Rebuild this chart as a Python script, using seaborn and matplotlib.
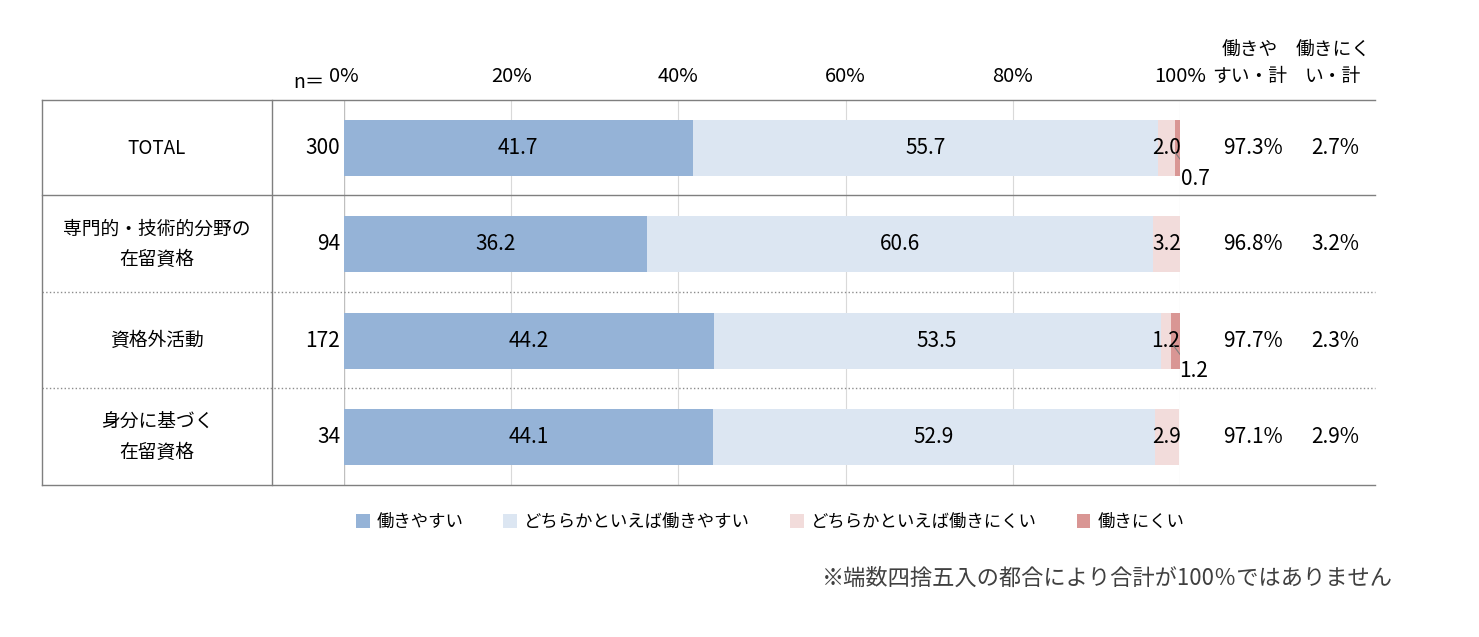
"""Stacked horizontal bar chart: ease of working, by residence status."""

import matplotlib
import numpy as np
import pandas as pd
import seaborn as sns
from matplotlib.lines import Line2D
from matplotlib.patches import Patch
from matplotlib import transforms

matplotlib.use("Agg")
import matplotlib.pyplot as plt

plt.rcParams["font.family"] = "Noto Sans CJK JP"

categories = ["TOTAL", "専門的・技術的分野の\n在留資格", "資格外活動", "身分に基づく\n在留資格"]
n_values = [300, 94, 172, 34]
series_names = ["働きやすい", "どちらかといえば働きやすい", "どちらかといえば働きにくい", "働きにくい"]
easy = [41.7, 36.2, 44.2, 44.1]
rather_easy = [55.7, 60.6, 53.5, 52.9]
rather_hard = [2.0, 3.2, 1.2, 2.9]
hard = [0.7, 0.0, 1.2, 0.0]
easy_total = ["97.3%", "96.8%", "97.7%", "97.1%"]
hard_total = ["2.7%", "3.2%", "2.3%", "2.9%"]
colors = ["#95b3d7", "#dce6f2", "#f2dcdb", "#d99694"]

series = [easy, rather_easy, rather_hard, hard]
cum = np.cumsum(np.array(series), axis=0)
df = pd.DataFrame({"cat": categories})

fig = plt.figure(figsize=(14.79, 6.37), dpi=100)
ax = fig.add_axes([344 / 1479, 1 - 485 / 637, 836 / 1479, 385 / 637])

# draw cumulative bars largest first so they stack
for i in range(3, -1, -1):
    sns.barplot(x=cum[i], y=df["cat"], color=colors[i], orient="h", width=0.58,
                saturation=1, ax=ax, zorder=2)

ax.set_xlim(0, 100)
ax.set_ylim(3.5, -0.5)
ax.set_xticks([0, 20, 40, 60, 80, 100])
ax.set_xticklabels(["0%", "20%", "40%", "60%", "80%", "100%"], fontsize=14.5)
ax.xaxis.tick_top()
ax.tick_params(axis="x", length=0, pad=9)
ax.set_yticks([])
ax.set_xlabel("")
ax.set_ylabel("")
for s in ax.spines.values():
    s.set_visible(False)
ax.axvline(0, color="#bfbfbf", lw=1, zorder=1)
for x in [20, 40, 60, 80, 100]:
    ax.axvline(x, color="#d9d9d9", lw=0.8, zorder=1)

# segment labels
for r in range(4):
    left = 0
    for i in range(3):
        v = series[i][r]
        ax.text(left + v / 2, r, f"{v:.1f}", ha="center", va="center", fontsize=15, zorder=3)
        left += v
    if hard[r] > 0:
        xm = left + hard[r] / 2
        ax.plot([xm - 0.3, xm + 1.6], [r + 0.05, r + 0.27], color="#7f7f7f", lw=0.8, zorder=3)
        ax.text(xm + 0.4, r + 0.32, f"{hard[r]:.1f}", ha="left", va="center", fontsize=15, zorder=3)

# table text outside the axes
tr = transforms.blended_transform_factory(fig.transFigure, ax.transData)
for r in range(4):
    ax.text(157 / 1479, r, categories[r], transform=tr, ha="center", va="center",
            fontsize=13.5, linespacing=1.6)
    ax.text(340 / 1479, r, str(n_values[r]), transform=tr, ha="right", va="center", fontsize=15)
    ax.text(1253 / 1479, r, easy_total[r], transform=tr, ha="center", va="center", fontsize=15)
    ax.text(1335 / 1479, r, hard_total[r], transform=tr, ha="center", va="center", fontsize=15)

fig.text(293 / 1479, 1 - 82 / 637, "n＝", ha="left", va="center", fontsize=14)
fig.text(1250 / 1479, 1 - 63 / 637, "働きや\nすい・計", ha="center", va="center", fontsize=13.5,
         linespacing=1.4)
fig.text(1333 / 1479, 1 - 63 / 637, "働きにく\nい・計", ha="center", va="center", fontsize=13.5,
         linespacing=1.4)

# table borders
def hline(y, ls="-", color="#7f7f7f", lw=1.0):
    fig.add_artist(Line2D([42 / 1479, 1375 / 1479], [1 - y / 637] * 2, color=color, lw=lw, ls=ls))

hline(100)
hline(195)
hline(292, ls=":", color="#8c8c8c")
hline(388, ls=":", color="#8c8c8c")
hline(485)
for x in [42, 272]:
    fig.add_artist(Line2D([x / 1479] * 2, [1 - 100 / 637, 1 - 485 / 637], color="#7f7f7f", lw=1.0))

handles = [Patch(facecolor=c, edgecolor="none") for c in colors]
fig.legend(handles, series_names, loc="center", bbox_to_anchor=(770 / 1479, 1 - 522 / 637),
           ncol=4, frameon=False, fontsize=12.5, handlelength=0.8, handleheight=0.8,
           columnspacing=2.3, handletextpad=0.4)

fig.text(1393 / 1479, 1 - 578 / 637, "※端数四捨五入の都合により合計が100％ではありません",
         ha="right", va="center", fontsize=16, color="#404040")

fig.savefig("out.png", dpi=100)
plt.close(fig)
